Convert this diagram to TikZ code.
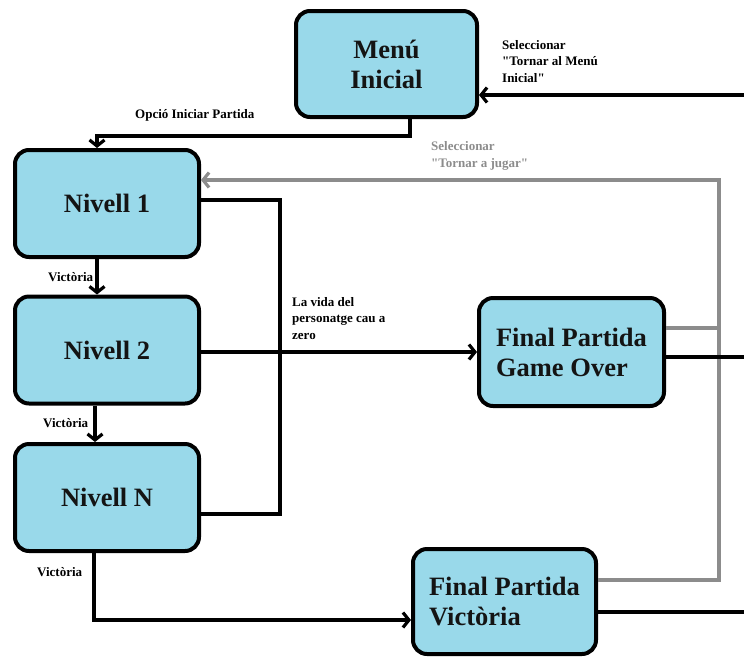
\documentclass[tikz,border=0pt]{standalone}
\usepackage{fontspec}
\setmainfont{Liberation Serif}
\usetikzlibrary{arrows.meta}
\definecolor{boxfill}{RGB}{153,217,234}
\definecolor{linkgray}{RGB}{140,140,140}
\newcommand{\sq}{\textquotedbl}
\tikzset{
  state/.style={draw=black, line width=4pt, fill=boxfill, rounded corners=14pt,
    minimum width=184pt, minimum height=107pt, inner sep=0pt,
    font=\bfseries\fontsize{26.5}{30}\selectfont, text=black!92},
  conn/.style={draw=black, line width=3.2pt},
  arr/.style={conn, -{Straight Barb[length=6pt,width=15pt]}},
  greyconn/.style={draw=linkgray, line width=3.2pt},
  greyarr/.style={greyconn, -{Straight Barb[length=6pt,width=15pt]}},
  lbl/.style={font=\bfseries\fontsize{13}{16.5}\selectfont, inner sep=0pt, align=left, anchor=base west},
}
\begin{document}
\begin{tikzpicture}[x=1pt, y=-1pt]
\useasboundingbox (0,0) rectangle (744,657);

% states
\node[state, minimum width=181pt, minimum height=106pt, align=center] (menu) at (386.5,64) {Menú\\Inicial};
\node[state] (n1) at (107,203.5) {Nivell 1};
\node[state] (n2) at (107,350) {Nivell 2};
\node[state] (nN) at (107,497.5) {Nivell N};
\node[state, minimum width=185pt, minimum height=108pt, align=left] (go) at (571.5,352) {Final Partida\\Game Over};
\node[state, minimum width=183pt, minimum height=105pt, align=left] (vic) at (504.5,601.5) {Final Partida\\Victòria};

% start a game
\draw[arr] ([xshift=23.5pt]menu.south) -- ++(0,17) -| ([xshift=-10pt]n1.north);
\node[lbl] (lstart) at (135,118) {Opció Iniciar Partida};

% level progression
\draw[arr] ([xshift=-10pt]n1.south) -- ([xshift=-10pt]n2.north);
\node[lbl] (lv1) at (48,281) {Victòria};
\draw[arr] ([xshift=-12pt]n2.south) -- ([xshift=-12pt]n2.south |- nN.north);
\node[lbl] (lv2) at (43,427) {Victòria};
\draw[arr] ([xshift=-13pt]nN.south) |- ([yshift=-18.5pt]vic.west);
\node[lbl] (lv3) at (37,576) {Victòria};

% losing from any level
\draw[conn] ([yshift=3.5pt]n1.east) -- ++(79,0) |- ([yshift=-16.5pt]nN.east);
\draw[arr] ([yshift=-2pt]n2.east) -- ([yshift=-2pt]n2.east -| go.west);
\node[lbl] (ldie) at (292,339) {La vida del\\personatge cau a\\zero};

% play again
\draw[greyconn] ([yshift=24pt]go.east) -- ++(53,0);
\draw[greyarr] ([yshift=21.5pt]vic.east) -- ++(121,0) |- ([yshift=23.5pt]n1.east);
\node[lbl, text=linkgray] (lagain) at (431,167) {Seleccionar\\\sq Tornar a jugar\sq};

% back to the menu
\draw[conn] ([yshift=-5pt]go.east) -- ++(82,0);
\draw[conn] ([yshift=-10.5pt]vic.east) -- ++(150,0);
\draw[arr] ([yshift=-31pt,xshift=270pt]menu.east) -- ([yshift=-31pt]menu.east);
\node[lbl] (lmenu) at (502,82) {Seleccionar\\\sq Tornar al Menú\\Inicial\sq};
\end{tikzpicture}
\end{document}
